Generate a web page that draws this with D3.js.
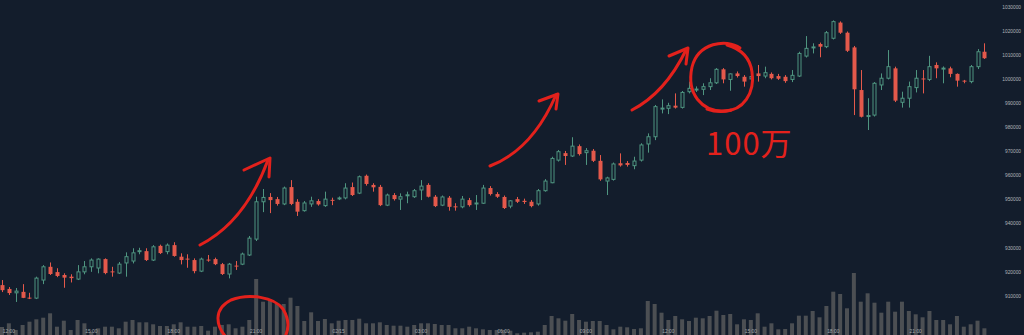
<!DOCTYPE html>
<html><head><meta charset="utf-8">
<script src="https://cdn.jsdelivr.net/npm/d3@7"></script>
<style>
html,body{margin:0;padding:0;background:#131d2c;overflow:hidden}
svg{display:block}
</style></head>
<body><svg id="c" width="1024" height="335"></svg>
<script>
const opens = [914400,912800,911200,911600,909200,909000,916500,922000,919800,918600,917900,916900,919900,922000,921500,925200,920100,919400,923600,924400,928400,928500,924800,930700,928300,931000,926200,925400,924800,920200,925000,925200,923100,919000,922500,923100,926900,933500,949000,951000,950100,948100,955100,949000,945300,948100,949300,947400,949800,950300,950600,955100,952600,959800,956000,955200,947600,951800,950100,951700,951100,953900,956000,951100,947600,950700,947100,946900,949700,948200,948400,954700,952200,951000,947200,950100,949400,949000,948100,953600,956900,966300,969200,968000,972100,969400,970200,966000,957600,958300,965000,965100,964000,966300,973000,976000,987600,987800,988900,988200,994700,995500,995700,996800,998400,1004000,999800,1002300,1000900,1000000,1002300,1001200,1002100,1001200,1000900,999800,1001200,1009500,1013000,1014500,1013400,1016900,1023400,1019200,1013100,995400,984500,985000,997500,1000300,1004400,990300,992000,996400,1000200,999800,1005800,1004300,1004400,1002100,999300,998900,1005100,1011300];
const highs = [916500,913600,913200,914800,911200,917900,922700,923800,921400,919300,918900,922700,924400,925500,925500,925500,922000,924000,928000,929700,929900,929700,931000,931200,931700,932200,927600,927200,925500,925800,926900,925800,923600,923600,924400,927900,934800,951100,954300,952600,951000,955300,958000,950100,949300,951100,950100,953200,950700,951200,956700,957000,959900,960300,956700,956000,952400,952600,952500,953200,954300,958000,956700,951800,951600,951400,948400,951400,950600,951800,956000,955500,953000,951600,949700,951000,950300,949700,954300,958400,967700,970500,970100,975800,972800,971300,970900,968400,959400,965300,969100,965900,967700,973300,977400,989200,991500,990100,994000,995000,998900,996900,998200,1000300,1004500,1004500,1002300,1003100,1001600,1002000,1005800,1005100,1002700,1002100,1001600,1003700,1011300,1017800,1014800,1015100,1019900,1024300,1023900,1019700,1013700,1003700,992000,998700,1002300,1012000,1005100,994700,998900,1003700,1003700,1009600,1006900,1005200,1005100,1002300,999600,1005800,1012400,1014800];
const lows = [911500,910300,907400,909000,908600,908600,914800,918600,917700,913300,915500,916500,918900,919900,919300,918900,917900,919000,917900,923400,927200,924400,924400,927300,927200,926200,923000,921600,919300,919800,924100,922700,918600,917200,920700,922700,926500,932700,944700,944300,947400,947600,947600,943100,944900,946900,947400,946900,947600,949700,950000,951400,952200,955700,953200,947200,947200,949500,945600,948400,950600,949700,950800,946800,947200,945300,945300,946300,947000,945600,948100,951600,950600,946000,946300,948500,948100,946700,947400,953200,956700,965700,964300,967600,968200,964300,965500,957700,951800,957800,963600,963600,962500,965700,969400,974600,985700,985400,987700,987700,994000,994600,993300,995400,997900,998200,995100,1000600,996800,999500,998900,1000300,999800,999600,998400,998700,1000800,1008900,1010600,1009000,1012800,1016400,1018700,1011200,985000,984000,978800,984400,995400,999800,990400,988100,988100,994400,994000,999100,1000300,998200,1000700,996800,998200,998200,1004100,1008300];
const closes = [912300,911100,911900,909100,909000,917300,922000,919000,918200,917500,917300,919900,922000,924800,925200,919400,919800,923100,926200,927800,928700,924800,930300,927700,931000,926500,924800,925200,920200,925200,924800,923100,919000,923100,922300,927300,933900,949000,950800,949700,948100,954700,948100,944900,948500,949400,947900,950100,949600,950600,954700,951800,959400,956400,955000,947600,951800,950100,951100,951900,953600,955500,951100,947200,951000,946900,946800,950100,947600,948500,954700,952200,951100,946400,949400,949000,948900,947200,953600,957600,967000,969800,968000,972100,968800,970200,966000,958300,958900,964700,964100,964300,965900,972600,976000,988500,987900,988900,988100,994400,996100,995800,996800,998400,1004000,999800,1002100,1001200,998900,1001000,1001200,1002600,1000300,1000100,999100,1001500,1010600,1012700,1013300,1013400,1019200,1023800,1019200,1011700,995700,984300,984800,998200,1000300,1005100,991000,992000,996800,1000300,1000000,1005100,1004400,1004500,1002100,999300,999000,1005100,1011300,1008600];
const volumes = [80,117,50,100,133,157,173,217,83,143,50,150,117,33,67,83,83,67,133,150,127,127,107,90,90,107,127,83,83,90,43,83,100,107,67,83,150,560,333,360,310,310,373,290,140,227,140,160,117,143,150,150,163,117,117,127,100,93,93,83,100,117,117,110,100,100,67,67,83,67,57,50,50,50,43,17,23,27,33,100,190,167,143,210,150,133,140,140,100,57,83,77,60,67,340,310,223,150,190,157,140,173,167,190,243,200,210,107,157,150,217,83,117,57,60,117,193,193,240,177,290,433,410,267,620,333,417,323,223,333,233,333,240,207,177,240,150,150,107,190,83,107,143,67];
const yTicks = [910000,920000,930000,940000,950000,960000,970000,980000,990000,1000000,1010000,1020000,1030000];
const xTickLabels = ["12:00","15:00","18:00","21:00","02/15","03:00","06:00","09:00","12:00","15:00","18:00","21:00"];
const startTime = new Date(2020, 1, 14, 11, 45);

const times = opens.map((_, i) => d3.timeMinute.offset(startTime, 15 * i));
const data = times.map((t, i) => ({t, o: opens[i], h: highs[i], l: lows[i], c: closes[i], v: volumes[i]}));

const BG = "#131d2c", UP = "#4f9580", DOWN = "#e4594b", VOL = "#4c4f53", ANN = "#e3211c";
const svg = d3.select("#c");
svg.append("rect").attr("width", 1024).attr("height", 335).attr("fill", BG);

const x = d3.scaleBand().domain(times).range([-1.44, 987.84]).paddingInner(0.4).paddingOuter(0.2);
const cx = d => x(d) + x.bandwidth() / 2;
const y = d3.scaleLinear().domain([910000, 1030000]).range([295.7, 6.7]);
const yv = d3.scaleLinear().domain([0, 620]).range([335, 273]);

// volume
svg.append("g").selectAll("rect").data(data).join("rect")
  .attr("x", d => cx(d.t) - 2).attr("width", 4)
  .attr("y", d => yv(d.v)).attr("height", d => 335 - yv(d.v))
  .attr("fill", VOL);

// axes
const xTickTimes = times.filter(t => t.getMinutes() === 0 && t.getHours() % 3 === 0);
const gx = svg.append("g").attr("transform", "translate(0,327)")
  .call(d3.axisBottom(x).tickValues(xTickTimes).tickFormat((d, i) => xTickLabels[i]).tickSize(0));
gx.select(".domain").remove();
gx.selectAll("text").attr("fill", "#a4a8ad").attr("font-size", 4.9).attr("font-family", "Liberation Sans, Arial, sans-serif").attr("dy", "0.71em");

const gy = svg.append("g").attr("transform", "translate(1021,0)")
  .call(d3.axisRight(y).tickValues(yTicks).tickFormat(d3.format("d")).tickSize(0));
gy.select(".domain").remove();
gy.selectAll("text").attr("fill", "#b0b4b9").attr("font-size", 4.8).attr("font-family", "Liberation Sans, Arial, sans-serif").attr("text-anchor", "end").attr("x", 0);

// candles
const cg = svg.append("g").selectAll("g").data(data).join("g");
cg.append("line")
  .attr("x1", d => Math.round(cx(d.t)) + 0.5).attr("x2", d => Math.round(cx(d.t)) + 0.5)
  .attr("y1", d => y(d.h)).attr("y2", d => y(d.l))
  .attr("stroke", d => d.c >= d.o ? UP : DOWN).attr("stroke-width", 1);
cg.append("rect")
  .attr("x", d => d.c >= d.o ? Math.round(cx(d.t)) - 1 : Math.round(cx(d.t)) - 1.5)
  .attr("width", d => d.c >= d.o ? 3 : 4)
  .attr("y", d => y(Math.max(d.o, d.c)))
  .attr("height", d => Math.max(1, Math.abs(y(d.o) - y(d.c))))
  .attr("fill", d => d.c >= d.o ? BG : DOWN)
  .attr("stroke", d => d.c >= d.o ? UP : "none").attr("stroke-width", 1);

// hand-drawn annotations
const ann = svg.append("g").attr("fill", "none").attr("stroke", ANN).attr("stroke-width", 3)
  .attr("stroke-linecap", "round").attr("stroke-linejoin", "round");
ann.append("path").attr("d", "M200,245 Q245,222 268,160");
ann.append("path").attr("d", "M244,170 L270,158 L269,177");
ann.append("path").attr("d", "M490,166 Q532,150 556,95");
ann.append("path").attr("d", "M539,101 L558,94 L556,109");
ann.append("path").attr("d", "M632,110 Q665,93 686,50");
ann.append("path").attr("d", "M669,56 L688,48 L686,64");
ann.append("path").attr("d", "M740,48 C726,38 698,43 692,67 C686,95 703,111 722,111 C744,112 755,92 752,72 C750,57 741,49 727,45");
ann.append("path").attr("d", "M707,109 C715,112 724,112 731,110");
ann.append("path").attr("d", "M226,337 C216,326 213,309 231,300 C249,293 274,297 283,309 C289,319 289,329 285,337");
svg.append("text").attr("x", 706).attr("y", 155).attr("fill", ANN)
  .attr("font-family", "Noto Sans CJK JP, sans-serif").attr("font-size", 31).attr("font-weight", 400)
  .attr("letter-spacing", 1).text("100万");
</script></body></html>
